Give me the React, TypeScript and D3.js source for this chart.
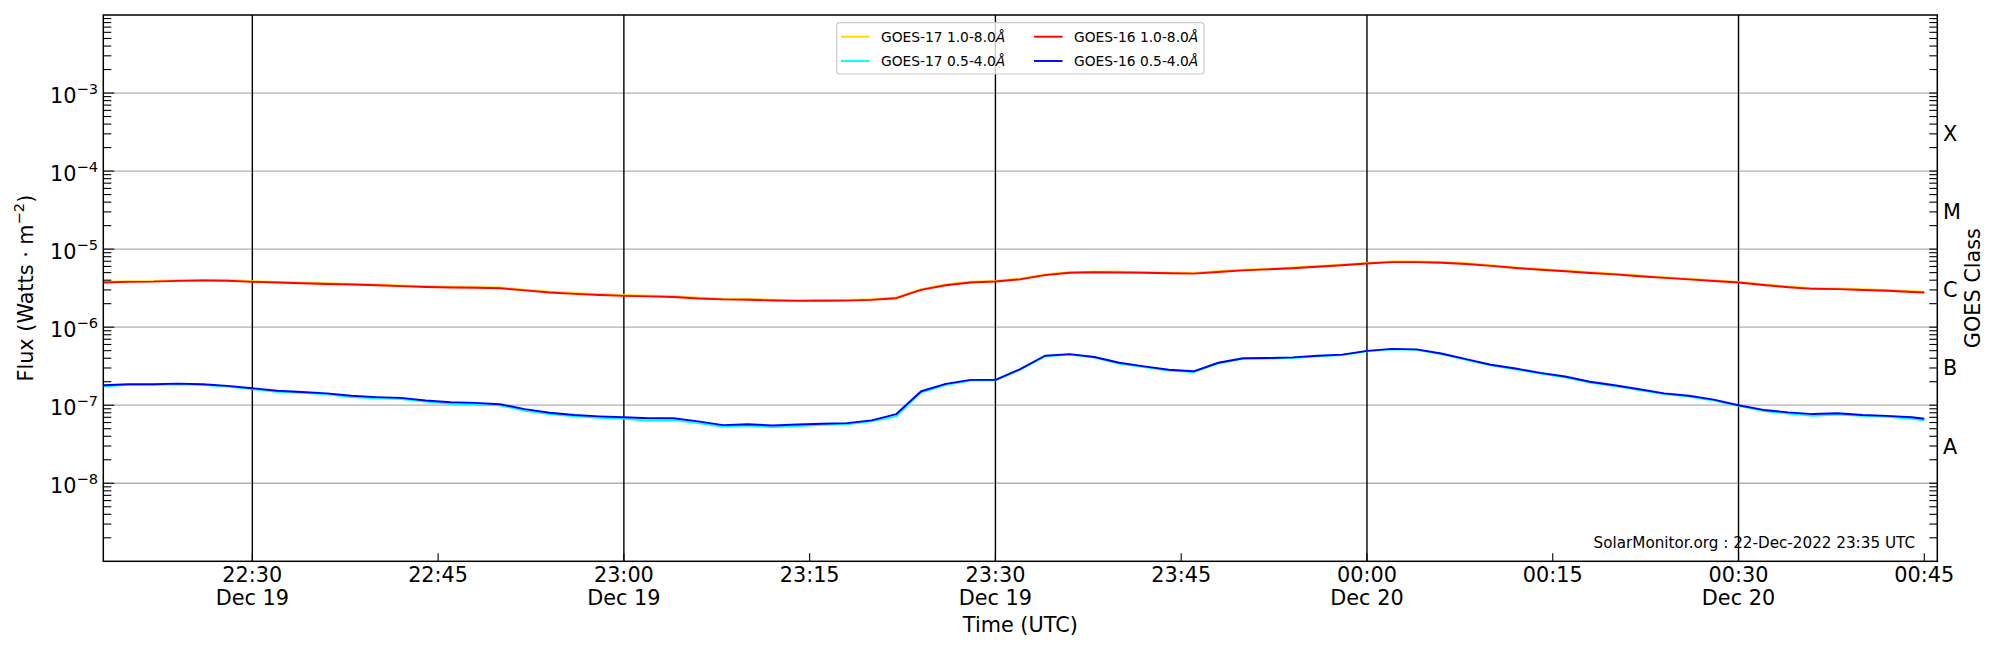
import * as d3 from "d3";

// GOES XRS flux, 2-min samples starting 22:18 UTC on 19 Dec 2022
const START = Date.UTC(2022, 11, 19, 22, 18);
const MINUTES = [...d3.range(0, 147, 2), 147];

// 1.0-8.0 Å channel, units of 1e-6 W/m^2
const G17_LONG = [
  3.8, 3.88, 3.9, 4.0, 4.03, 4.01, 3.88, 3.8, 3.72, 3.65, 3.59, 3.52, 3.43, 3.34, 3.29, 3.27, 3.22, 3.03, 2.85, 2.74,
  2.64, 2.58, 2.54, 2.5, 2.39, 2.32, 2.3, 2.25, 2.22, 2.23, 2.24, 2.29, 2.41, 3.06, 3.52, 3.82, 3.92, 4.19, 4.74, 5.08,
  5.15, 5.12, 5.08, 5.0, 4.95, 5.2, 5.46, 5.61, 5.81, 6.07, 6.34, 6.67, 6.96, 6.96, 6.83, 6.58, 6.22, 5.83, 5.56, 5.3,
  5.05, 4.84, 4.59, 4.37, 4.18, 3.98, 3.8, 3.54, 3.32, 3.16, 3.13, 3.06, 2.99, 2.88, 2.84,
];
const G16_LONG = [
  3.73, 3.81, 3.83, 3.92, 3.96, 3.94, 3.81, 3.73, 3.65, 3.58, 3.52, 3.45, 3.36, 3.27, 3.22, 3.2, 3.15, 2.96, 2.78, 2.67,
  2.58, 2.52, 2.48, 2.44, 2.33, 2.27, 2.25, 2.2, 2.17, 2.18, 2.19, 2.24, 2.35, 3.0, 3.45, 3.74, 3.84, 4.1, 4.65, 4.98,
  5.05, 5.02, 4.98, 4.9, 4.85, 5.1, 5.35, 5.5, 5.7, 5.95, 6.22, 6.54, 6.82, 6.82, 6.7, 6.45, 6.1, 5.72, 5.45, 5.2,
  4.95, 4.75, 4.5, 4.28, 4.1, 3.9, 3.73, 3.47, 3.25, 3.1, 3.07, 3.0, 2.93, 2.82, 2.78,
];

// 0.5-4.0 Å channel, units of 1e-7 W/m^2
const G17_SHORT = [
  1.75, 1.82, 1.82, 1.85, 1.82, 1.73, 1.61, 1.49, 1.44, 1.38, 1.27, 1.23, 1.2, 1.11, 1.04, 1.02, 1.0, 0.85, 0.77, 0.72,
  0.69, 0.67, 0.63, 0.64, 0.59, 0.53, 0.55, 0.52, 0.54, 0.56, 0.57, 0.62, 0.72, 1.45, 1.83, 2.07, 2.08, 2.85, 4.22, 4.45,
  4.08, 3.42, 3.08, 2.78, 2.66, 3.43, 3.93, 3.97, 4.03, 4.23, 4.38, 4.9, 5.2, 5.12, 4.53, 3.83, 3.24, 2.89, 2.55, 2.28,
  1.95, 1.76, 1.56, 1.39, 1.29, 1.15, 0.98, 0.85, 0.78, 0.73, 0.76, 0.73, 0.71, 0.67, 0.64,
];
const G16_SHORT = [
  1.8, 1.86, 1.86, 1.89, 1.86, 1.77, 1.65, 1.53, 1.48, 1.42, 1.32, 1.27, 1.24, 1.15, 1.09, 1.07, 1.03, 0.89, 0.8, 0.75,
  0.72, 0.7, 0.68, 0.68, 0.62, 0.555, 0.57, 0.55, 0.565, 0.58, 0.59, 0.64, 0.77, 1.51, 1.88, 2.11, 2.11, 2.9, 4.3, 4.52,
  4.15, 3.5, 3.15, 2.85, 2.72, 3.5, 4.0, 4.03, 4.1, 4.3, 4.45, 4.97, 5.27, 5.2, 4.6, 3.9, 3.3, 2.95, 2.6, 2.33,
  2.0, 1.8, 1.6, 1.42, 1.32, 1.18, 1.0, 0.87, 0.81, 0.77, 0.79, 0.75, 0.73, 0.7, 0.67,
];

const SERIES = [
  { label: "GOES-17 1.0-8.0", color: "#FFD700", values: G17_LONG, unit: 1e-6 },
  { label: "GOES-17 0.5-4.0", color: "#00FFFF", values: G17_SHORT, unit: 1e-7 },
  { label: "GOES-16 1.0-8.0", color: "#FF0000", values: G16_LONG, unit: 1e-6 },
  { label: "GOES-16 0.5-4.0", color: "#0000FF", values: G16_SHORT, unit: 1e-7 },
];

const CLASS_LABELS = ["A", "B", "C", "M", "X"];
const CLASS_VALUES = [3e-8, 3e-7, 3e-6, 3e-5, 3e-4];

const FONT = "DejaVu Sans, sans-serif";
const FS = 20.8;
const SUP = 14.6;
const M = { left: 103.3, right: 1937.3, top: 15, bottom: 561.3 };

export default function App() {
  const x = d3
    .scaleUtc()
    .domain([new Date(START - 2000), new Date(Date.UTC(2022, 11, 20, 0, 46, 3))])
    .range([M.left, M.right]);
  const y = d3.scaleLog().domain([1e-9, 1e-2]).range([M.bottom, M.top]);

  const xTicks = d3.utcMinute.every(15)!.range(x.domain()[0], x.domain()[1]);
  const yTicks = y.ticks().filter((v) => v > 1e-9 * 1.01 && v < 1e-2 * 0.99);
  const isMajor = (v: number) => Math.abs(Math.log10(v) - Math.round(Math.log10(v))) < 1e-6;
  const decades = d3.range(-8, -2).map((e) => Math.pow(10, e));
  const fmtTime = d3.utcFormat("%H:%M");
  const fmtDay = d3.utcFormat("%b %d");

  const line = d3
    .line<number>()
    .x((_, i) => x(new Date(START + MINUTES[i] * 60000)))
    .y((v) => y(v));

  const lx = 836.7;
  const ly = 22.7;

  return (
    <svg
      width={2000}
      height={650}
      style={{ position: "absolute", left: 0, top: 0, background: "#fff" }}
      fontFamily={FONT}
    >
      <rect width={2000} height={650} fill="#fff" />
      {/* horizontal grid */}
      {decades.map((v) => (
        <line key={v} x1={M.left} x2={M.right} y1={y(v)} y2={y(v)} stroke="#b0b0b0" strokeWidth={1.3} />
      ))}
      {/* half-hour markers */}
      {xTicks
        .filter((t) => t.getUTCMinutes() % 30 === 0)
        .map((t) => (
          <line key={+t} x1={x(t)} x2={x(t)} y1={M.top} y2={M.bottom} stroke="#000" strokeWidth={1.4} />
        ))}
      {/* data */}
      {SERIES.map((s) => (
        <path
          key={s.label}
          d={line(s.values.map((v) => v * s.unit)) || ""}
          fill="none"
          stroke={s.color}
          strokeWidth={1.9}
          strokeLinejoin="round"
        />
      ))}
      {/* y ticks left and right */}
      {yTicks.map((v) => (
        <g key={v}>
          <line x1={M.left} x2={M.left + (isMajor(v) ? 11 : 8)} y1={y(v)} y2={y(v)} stroke="#000" strokeWidth={1.1} />
          <line x1={M.right} x2={M.right - 8} y1={y(v)} y2={y(v)} stroke="#000" strokeWidth={1.1} />
        </g>
      ))}
      {decades.map((v) => (
        <text key={v} x={98} y={y(v) + 9.7} textAnchor="end" fontSize={FS} fill="#000">
          10
          <tspan dy={-9} fontSize={SUP}>
            {"\u2212" + Math.abs(Math.round(Math.log10(v)))}
          </tspan>
        </text>
      ))}
      {/* x ticks */}
      {xTicks.map((t) => (
        <g key={+t}>
          <line x1={x(t)} x2={x(t)} y1={M.bottom} y2={M.bottom - 8} stroke="#000" strokeWidth={1.1} />
          <text x={x(t)} y={582} textAnchor="middle" fontSize={FS} fill="#000">
            {fmtTime(t)}
          </text>
          {t.getUTCMinutes() % 30 === 0 && (
            <text x={x(t)} y={605} textAnchor="middle" fontSize={FS} fill="#000">
              {fmtDay(t)}
            </text>
          )}
        </g>
      ))}
      {/* GOES class labels */}
      {CLASS_LABELS.map((c, i) => (
        <text key={c} x={1943} y={y(CLASS_VALUES[i]) + 7.5} fontSize={FS} fill="#000">
          {c}
        </text>
      ))}
      {/* frame */}
      <rect
        x={M.left}
        y={M.top}
        width={M.right - M.left}
        height={M.bottom - M.top}
        fill="none"
        stroke="#000"
        strokeWidth={1.5}
      />
      {/* axis labels */}
      <text x={(M.left + M.right) / 2} y={632} textAnchor="middle" fontSize={FS} fill="#000">
        Time (UTC)
      </text>
      <text transform={`translate(33,${(M.top + M.bottom) / 2}) rotate(-90)`} textAnchor="middle" fontSize={FS} fill="#000">
        Flux (Watts · m
        <tspan dy={-9} fontSize={SUP}>
          {"\u22122"}
        </tspan>
        <tspan dy={9}>)</tspan>
      </text>
      <text transform={`translate(1980,${(M.top + M.bottom) / 2}) rotate(-90)`} textAnchor="middle" fontSize={FS} fill="#000">
        GOES Class
      </text>
      {/* legend */}
      <rect x={lx} y={ly} width={367.3} height={51.3} rx={3} fill="#fff" fillOpacity={0.8} stroke="#cccccc" strokeWidth={1.2} />
      {SERIES.map((s, i) => {
        const col = Math.floor(i / 2);
        const row = i % 2;
        const x0 = col === 0 ? 841 : 1034;
        const yy = 36.7 + row * 24.3;
        return (
          <g key={s.label}>
            <line x1={x0} x2={x0 + 28.5} y1={yy} y2={yy} stroke={s.color} strokeWidth={1.9} />
            <text x={x0 + 40} y={yy + 5} fontSize={13.8} fill="#000">
              {s.label}
              <tspan fontStyle="italic">Å</tspan>
            </text>
          </g>
        );
      })}
      {/* watermark */}
      <text x={1915} y={548} textAnchor="end" fontSize={15.2} fill="#000">
        SolarMonitor.org : 22-Dec-2022 23:35 UTC
      </text>
    </svg>
  );
}
